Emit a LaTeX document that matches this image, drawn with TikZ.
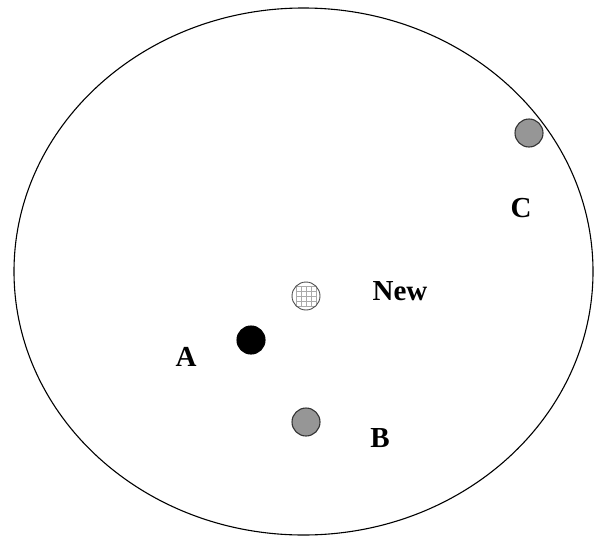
\documentclass[tikz,border=0pt]{standalone}
\usepackage{fontspec}
\setmainfont{Liberation Serif}
\usepackage{tikz}
\usetikzlibrary{positioning}
\definecolor{ptgray}{RGB}{150,150,150}
\definecolor{gridgray}{RGB}{170,170,170}

\begin{document}
\begin{tikzpicture}[x=1pt,y=-1pt,
  pt/.style={circle,draw=black!80,line width=1.1pt,minimum size=28pt,inner sep=0pt},
  lbl/.style={font=\fontsize{29}{29}\selectfont\bfseries,inner sep=0pt}]
  \useasboundingbox (0,0) rectangle (594,538);
  \draw[line width=1.1pt] (303.5,271.5) ellipse [x radius=289.5,y radius=263.5];
  % points
  \node[pt,fill=black,draw=black] (ptA) at (251,340) {};
  \node[pt,fill=ptgray] (ptB) at (306,422) {};
  \node[pt,fill=ptgray] (ptC) at (529,133) {};
  \node[pt,draw=black!70,line width=0.9pt,fill=white,
    path picture={\draw[gridgray,line width=0.5pt] (ptNew.south west) grid[step=5pt] (ptNew.north east);}]
    (ptNew) at (306,296) {};
  % labels
  \node[lbl] (labA) at (186,357) {A};
  \node[lbl] (labB) at (380,438) {B};
  \node[lbl] (labC) at (521,208) {C};
  \node[lbl] (labNew) at (400,291) {New};
\end{tikzpicture}
\end{document}
